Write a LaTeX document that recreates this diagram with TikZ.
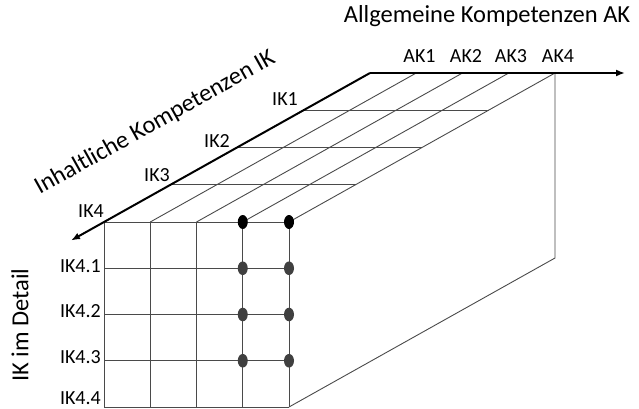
\documentclass[tikz,border=0pt]{standalone}
\usepackage{fontspec}
\setmainfont{Carlito}
\usetikzlibrary{arrows.meta}
\definecolor{gridgray}{HTML}{4A4A4A}
\definecolor{dotgray}{HTML}{404040}
\begin{document}
\begin{tikzpicture}[x=1pt,y=-1pt,
  gridline/.style={draw=gridgray,line width=0.9pt},
  axisline/.style={draw=black,line width=2pt,-{Latex[length=9pt,width=7pt]}},
  bigtext/.style={font=\fontsize{24.5}{28}\selectfont,inner sep=0pt},
  smalltext/.style={font=\fontsize{20}{24}\selectfont,inner sep=0pt},
]
\useasboundingbox (0,0) rectangle (639,409);
% coordinates of the front face and the top surface
\foreach \i in {0,...,4}{
  \foreach \j in {0,...,4}{
    \coordinate (f\i\j) at ({104+46.25*\i},{222+46.25*\j});
    \coordinate (t\i\j) at ({104+46.25*\i+66.5*\j},{222-37.25*\j});
  }
}
\coordinate (rb) at (555,258);
\coordinate (akend) at (625,73);
\coordinate (ikend) at (71,240.5);
% front face grid
\foreach \i in {0,...,4}{ \draw[gridline] (f\i0) -- (f\i4); }
\foreach \j in {0,...,4}{ \draw[gridline] (f0\j) -- (f4\j); }
% top surface
\foreach \i in {1,...,4}{ \draw[gridline] (t\i0) -- (t\i4); }
\foreach \k in {1,...,3}{ \draw[gridline] (t0\k) -- (t4\k); }
% right face
\draw[gridline] (t44) -- (rb) -- (f44);
% axes
\draw[axisline] (t04) -- (akend);
\draw[axisline] (t04) -- (ikend);
% dots
\foreach \j in {0,...,3}{
  \ifnum\j=0
    \fill[black] (f3\j) ellipse [x radius=5pt, y radius=7pt];
    \fill[black] (f4\j) ellipse [x radius=5pt, y radius=7pt];
  \else
    \fill[dotgray] (f3\j) ellipse [x radius=5pt, y radius=6.8pt];
    \fill[dotgray] (f4\j) ellipse [x radius=5pt, y radius=6.8pt];
  \fi
}
% titles
\node[bigtext,anchor=base] (akt) at (487,22.7) {Allgemeine Kompetenzen AK};
\node[bigtext,rotate=29.25] (ikt) at (155,123) {Inhaltliche Kompetenzen IK};
\node[bigtext,rotate=90] (ikd) at (20,325) {IK im Detail};
% AK labels
\node[smalltext,anchor=base] (ak1) at (419.5,62.5) {AK1};
\node[smalltext,anchor=base] (ak2) at (466,62.5) {AK2};
\node[smalltext,anchor=base] (ak3) at (511,62.5) {AK3};
\node[smalltext,anchor=base] (ak4) at (558,62.5) {AK4};
% IK labels
\node[smalltext,anchor=base east] (ik1) at (298,106) {IK1};
\node[smalltext,anchor=base east] (ik2) at (230,147.5) {IK2};
\node[smalltext,anchor=base east] (ik3) at (170,181) {IK3};
\node[smalltext,anchor=base east] (ik4) at (104,217) {IK4};
% IK4.x labels
\node[smalltext,anchor=base east] (ik41) at (101,272.7) {IK4.1};
\node[smalltext,anchor=base east] (ik42) at (101,317) {IK4.2};
\node[smalltext,anchor=base east] (ik43) at (101,363.3) {IK4.3};
\node[smalltext,anchor=base east] (ik44) at (101,404.5) {IK4.4};
\end{tikzpicture}
\end{document}
